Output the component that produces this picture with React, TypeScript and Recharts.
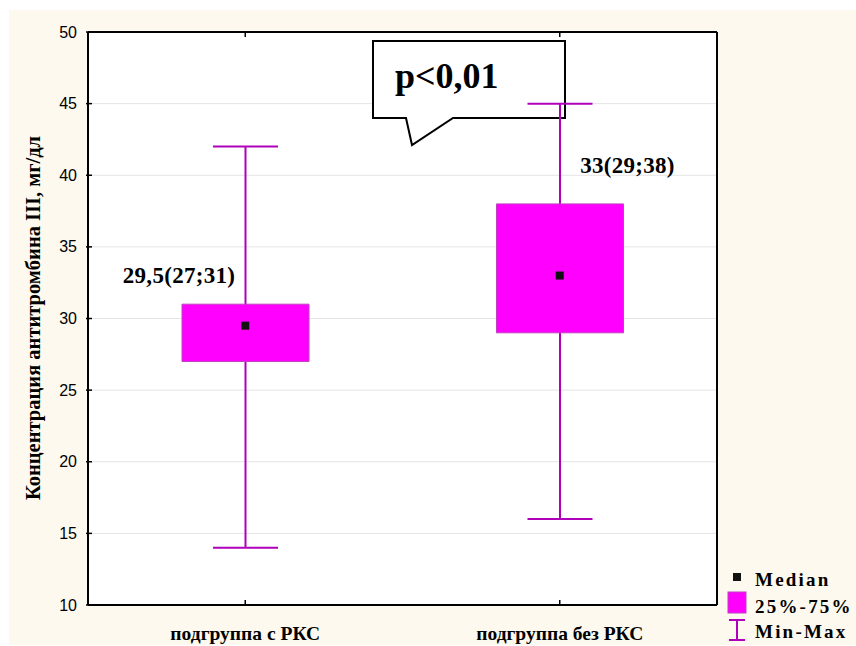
import {
  ComposedChart,
  Bar,
  Scatter,
  XAxis,
  YAxis,
  CartesianGrid,
  LabelList,
  Legend,
  Customized,
} from "recharts";

const groups = ["подгруппа с РКС", "подгруппа без РКС"];
const minValues = [14, 16];
const q1Values = [27, 29];
const medianValues = [29.5, 33];
const q3Values = [31, 38];
const maxValues = [42, 45];
const boxLabels = ["29,5(27;31)", "33(29;38)"];
const yTicks = [10, 15, 20, 25, 30, 35, 40, 45, 50];

const data = groups.map((name, i) => ({
  name,
  whisker: [minValues[i], maxValues[i]],
  box: [q1Values[i], q3Values[i]],
  median: medianValues[i],
  label: boxLabels[i],
}));

const SERIF = '"Liberation Serif", "Times New Roman", serif';
const SANS = '"Liberation Sans", Arial, sans-serif';
const WHISKER = "#b000bc";
const BOX = "#ff00ff";

const Whisker = (props: any) => {
  const { x, y, width, height } = props;
  const cx = x + width / 2;
  return (
    <g stroke={WHISKER} strokeWidth={2}>
      <line x1={cx} y1={y} x2={cx} y2={y + height} />
      <line x1={x} y1={y} x2={x + width} y2={y} />
      <line x1={x} y1={y + height} x2={x + width} y2={y + height} />
    </g>
  );
};

const MedianDot = (props: any) => {
  const { cx, cy } = props;
  return <rect x={cx - 4} y={cy - 4} width={8} height={8} fill="#111" />;
};

// labels sit above the box: first one over its left edge, second over its right edge
const BoxLabel = (props: any) => {
  const { x, y, width, index, value } = props;
  const cx = index === 0 ? x - 3 : x + width + 4;
  const cy = index === 0 ? y - 29 : y - 38;
  return (
    <text
      x={cx}
      y={cy}
      textAnchor="middle"
      dominantBaseline="central"
      fontFamily={SERIF}
      fontWeight="bold"
      fontSize={23}
      letterSpacing={0.3}
      fill="#000"
    >
      {value}
    </text>
  );
};

const LeftTick = (props: any) => {
  const { x, y, payload } = props;
  return (
    <g>
      <line x1={x - 2} y1={y} x2={x + 4} y2={y} stroke="#000" strokeWidth={1.5} />
      <text x={x - 11} y={y} textAnchor="end" dominantBaseline="central" fontFamily={SANS} fontSize={16} fill="#000">
        {payload.value}
      </text>
    </g>
  );
};

const RightTick = (props: any) => {
  const { x, y } = props;
  return <line x1={x - 5} y1={y} x2={x} y2={y} stroke="#000" strokeWidth={1.5} />;
};

const TopTick = (props: any) => {
  const { x, y } = props;
  return <line x1={x} y1={y} x2={x} y2={y + 5} stroke="#000" strokeWidth={1.5} />;
};

const BottomTick = (props: any) => {
  const { x, y, payload } = props;
  return (
    <g>
      <line x1={x} y1={y} x2={x} y2={y - 5} stroke="#000" strokeWidth={1.5} />
      <text x={x} y={y + 28} textAnchor="middle" dominantBaseline="central" fontFamily={SERIF} fontWeight="bold" fontSize={19.5} fill="#000">
        {payload.value}
      </text>
    </g>
  );
};

const Callout = () => (
  <g>
    <path
      d="M373,41 H565 V118 H453 L412,145 L406,118 H373 Z"
      fill="#fff"
      stroke="#000"
      strokeWidth={2}
    />
    <text x={395} y={88} fontFamily={SERIF} fontWeight="bold" fontSize={36} fill="#000">
      p&lt;0,01
    </text>
    <text
      x={33}
      y={318}
      transform="rotate(-90 33 318)"
      textAnchor="middle"
      dominantBaseline="central"
      fontFamily={SERIF}
      fontWeight="bold"
      fontSize={20.5}
      fill="#000"
    >
      Концентрация антитромбина III, мг/дл
    </text>
  </g>
);

const LegendContent = () => (
  <svg width={136} height={80} style={{ display: "block" }}>
    <g fontFamily={SERIF} fontWeight="bold" fontSize={19} fill="#000" letterSpacing={2.2}>
      <rect x={13} y={8} width={8} height={8} fill="#111" />
      <text x={35} y={14} dominantBaseline="central">Median</text>
      <rect x={8} y={27} width={18} height={21} fill={BOX} stroke="#c040c0" />
      <text x={35} y={41} dominantBaseline="central">25%-75%</text>
      <g stroke={WHISKER} strokeWidth={2}>
        <line x1={9} y1={55} x2={25} y2={55} />
        <line x1={17} y1={55} x2={17} y2={75} />
        <line x1={9} y1={75} x2={25} y2={75} />
      </g>
      <text x={35} y={66} dominantBaseline="central">Min-Max</text>
    </g>
  </svg>
);

export default function App() {
  return (
    <div style={{ position: "absolute", left: 0, top: 0, width: 856, height: 646, background: "#fff" }}>
      <div style={{ position: "absolute", left: 9, top: 10, right: 0, bottom: 1, background: "#fdf9ee" }} />
      <div style={{ position: "absolute", left: 0, top: 0 }}>
        <ComposedChart
          width={856}
          height={646}
          data={data}
          margin={{ top: 22, right: 129, bottom: 6, left: 28 }}
        >
          <CartesianGrid xAxisId="box" yAxisId="left" vertical={false} stroke="#e4e4e4" fill="#fff" />
          <XAxis
            xAxisId="box"
            dataKey="name"
            height={35}
            tickSize={0}
            tickMargin={0}
            tick={<BottomTick />}
            axisLine={{ stroke: "#000", strokeWidth: 2 }}
            tickLine={false}
          />
          <XAxis
            xAxisId="whisker"
            dataKey="name"
            orientation="top"
            height={10}
            tickSize={0}
            tickMargin={0}
            tick={<TopTick />}
            axisLine={{ stroke: "#000", strokeWidth: 2 }}
            tickLine={false}
          />
          <YAxis
            yAxisId="left"
            domain={[10, 50]}
            ticks={yTicks}
            width={60}
            tickSize={0}
            tickMargin={0}
            tick={<LeftTick />}
            axisLine={{ stroke: "#000", strokeWidth: 2 }}
            tickLine={false}
          />
          <YAxis
            yAxisId="right"
            orientation="right"
            domain={[10, 50]}
            ticks={yTicks}
            width={10}
            tickSize={0}
            tickMargin={0}
            tick={<RightTick />}
            axisLine={{ stroke: "#000", strokeWidth: 2 }}
            tickLine={false}
          />
          <Bar
            xAxisId="whisker"
            yAxisId="left"
            dataKey="whisker"
            barSize={65}
            shape={<Whisker />}
            isAnimationActive={false}
          />
          <Bar
            xAxisId="box"
            yAxisId="left"
            dataKey="box"
            barSize={127}
            fill={BOX}
            stroke="#c040c0"
            strokeWidth={1}
            isAnimationActive={false}
          >
            <LabelList dataKey="label" content={<BoxLabel />} />
          </Bar>
          <Scatter
            xAxisId="box"
            yAxisId="left"
            dataKey="median"
            shape={<MedianDot />}
            isAnimationActive={false}
          />
          <Customized component={Callout} />
          <Legend
            layout="horizontal"
            verticalAlign="middle"
            content={<LegendContent />}
            wrapperStyle={{ position: "absolute", left: 720, top: 565, width: 136 }}
          />
        </ComposedChart>
      </div>
    </div>
  );
}
